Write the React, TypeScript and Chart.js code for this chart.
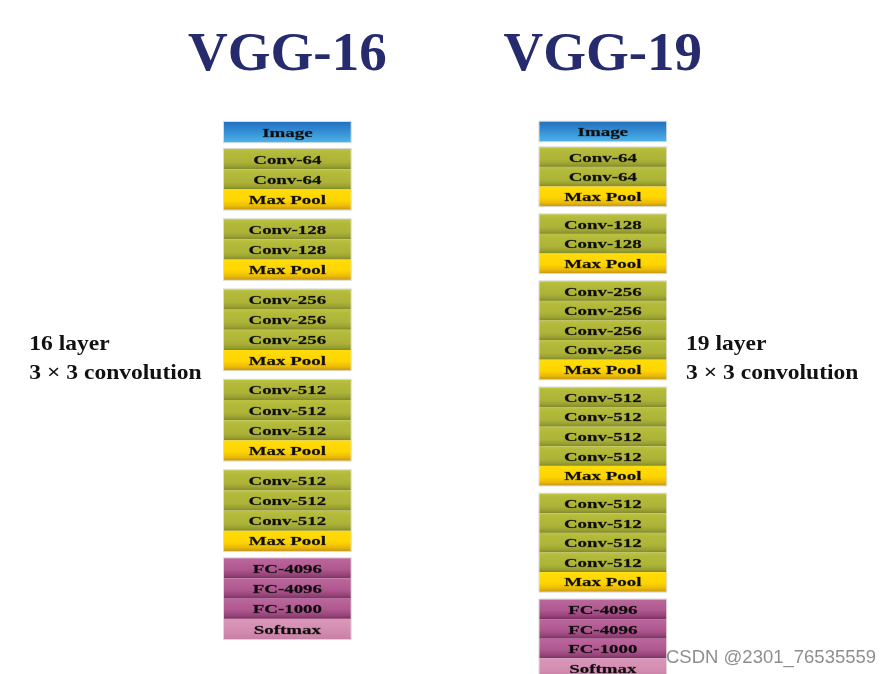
import { useEffect, useRef } from 'react';
import { Chart, registerables } from 'chart.js';

Chart.register(...registerables);

// ---------- content ----------
const networkTitles = ['VGG-16', 'VGG-19'];
const depthLabels = ['16 layer', '19 layer'];
const kernelLabel = '3 × 3 convolution';
const watermark = 'CSDN @2301_76535559';

const inputStage = ['Image'];
const classifierStage = ['FC-4096', 'FC-4096', 'FC-1000', 'Softmax'];

const vgg16ConvStages = [
  ['Conv-64', 'Conv-64', 'Max Pool'],
  ['Conv-128', 'Conv-128', 'Max Pool'],
  ['Conv-256', 'Conv-256', 'Conv-256', 'Max Pool'],
  ['Conv-512', 'Conv-512', 'Conv-512', 'Max Pool'],
  ['Conv-512', 'Conv-512', 'Conv-512', 'Max Pool'],
];

const vgg19ConvStages = [
  ['Conv-64', 'Conv-64', 'Max Pool'],
  ['Conv-128', 'Conv-128', 'Max Pool'],
  ['Conv-256', 'Conv-256', 'Conv-256', 'Conv-256', 'Max Pool'],
  ['Conv-512', 'Conv-512', 'Conv-512', 'Conv-512', 'Max Pool'],
  ['Conv-512', 'Conv-512', 'Conv-512', 'Conv-512', 'Max Pool'],
];

// ---------- layout (style, in scale units: one block = 1 unit) ----------
const W = 893;
const H = 674;
const gaps16 = { input: 0.337, conv: 0.475, fc: 0.36 };
const gaps19 = { input: 0.306, conv: 0.418, fc: 0.4 };
const blockHalfWidth = 0.2009; // x units

type Row = { label: string; top: number; stage: number };

function buildRows(stages: string[][], gaps: { input: number; conv: number; fc: number }): Row[] {
  const rows: Row[] = [];
  let u = 0;
  stages.forEach((stage, si) => {
    stage.forEach((label) => {
      rows.push({ label, top: u, stage: si });
      u += 1;
    });
    if (si === 0) u += gaps.input;
    else if (si === stages.length - 2) u += gaps.fc;
    else u += gaps.conv;
  });
  return rows;
}

const rows16 = buildRows([inputStage, ...vgg16ConvStages, classifierStage], gaps16);
const rows19 = buildRows([inputStage, ...vgg19ConvStages, classifierStage], gaps19);

function kindOf(label: string) {
  if (label.startsWith('Conv')) return 'conv';
  if (label.startsWith('Max')) return 'pool';
  if (label.startsWith('FC')) return 'fc';
  if (label.startsWith('Soft')) return 'soft';
  return 'image';
}

const gradientStops: Record<string, [number, string][]> = {
  image: [[0, '#2470c0'], [0.5, '#3590d4'], [1, '#4db2e8']],
  conv: [[0, '#bcc240'], [0.2, '#b3ba3a'], [0.65, '#adb337'], [0.85, '#9aa132'], [1, '#82882b']],
  pool: [[0, '#ffdc08'], [0.55, '#ffd500'], [0.82, '#ebbb08'], [1, '#c79818']],
  fc: [[0, '#ba679c'], [0.55, '#b05890'], [0.82, '#98447b'], [1, '#7c3063']],
  soft: [[0, '#da98b9'], [0.6, '#d38cb0'], [1, '#c87fa4']],
};

const diagramPlugin = {
  id: 'vggDiagram',
  afterDraw(chart: any) {
    const ctx: CanvasRenderingContext2D = chart.ctx;
    const xs = chart.scales.x;
    const yScales = [chart.scales.y16, chart.scales.y19];
    const rowSets = [rows16, rows19];

    ctx.save();
    rowSets.forEach((rows, ni) => {
      const ys = yScales[ni];
      const meta = chart.getDatasetMeta(ni);
      const cx = xs.getPixelForValue(ni);
      const left = xs.getPixelForValue(ni - blockHalfWidth);
      const right = xs.getPixelForValue(ni + blockHalfWidth);

      // stage outlines
      const stageIds = Array.from(new Set(rows.map((r) => r.stage)));
      stageIds.forEach((sid) => {
        const sr = rows.filter((r) => r.stage === sid);
        const t = ys.getPixelForValue(sr[0].top);
        const b = ys.getPixelForValue(sr[sr.length - 1].top + 1);
        ctx.strokeStyle = 'rgba(215,215,205,0.9)';
        ctx.lineWidth = 1;
        ctx.strokeRect(left - 0.5, t - 0.5, right - left + 1, b - t + 1);
      });

      rows.forEach((r, i) => {
        const t = ys.getPixelForValue(r.top);
        const b = ys.getPixelForValue(r.top + 1);
        const g = ctx.createLinearGradient(0, t, 0, b);
        gradientStops[kindOf(r.label)].forEach(([o, c]) => g.addColorStop(o, c));
        ctx.fillStyle = g;
        ctx.fillRect(left, t, right - left, b - t);

        const el = meta.data[i];
        const cy = el ? el.y : (t + b) / 2;
        ctx.save();
        ctx.translate(el ? el.x : cx, cy + 4.6);
        ctx.scale(1.4, 1);
        ctx.font = 'bold 13.5px "Liberation Serif", "Times New Roman", serif';
        ctx.fillStyle = '#0e0e0e';
        ctx.strokeStyle = 'rgba(14,14,14,0.55)';
        ctx.lineWidth = 0.35;
        ctx.textAlign = 'center';
        ctx.textBaseline = 'alphabetic';
        ctx.fillText(r.label, 0, 0);
        ctx.strokeText(r.label, 0, 0);
        ctx.restore();
      });

      // titles
      ctx.font = 'bold 55px "Liberation Serif", "Times New Roman", serif';
      ctx.fillStyle = '#262b6e';
      ctx.textAlign = 'center';
      ctx.textBaseline = 'alphabetic';
      ctx.fillText(networkTitles[ni], cx, 70);

      // side labels
      const lx = ni === 0 ? xs.getPixelForValue(-0.818) : xs.getPixelForValue(1.264);
      ctx.save();
      ctx.translate(lx, 0);
      ctx.scale(1.07, 1);
      ctx.font = 'bold 22px "Liberation Serif", "Times New Roman", serif';
      ctx.fillStyle = '#111';
      ctx.textAlign = 'left';
      ctx.fillText(depthLabels[ni], 0, 350);
      ctx.fillText(kernelLabel, 0, 379);
      ctx.restore();
    });

    // watermark
    ctx.font = '18.5px "Liberation Sans", Arial, sans-serif';
    ctx.fillStyle = 'rgba(130,130,130,0.9)';
    ctx.textAlign = 'left';
    ctx.textBaseline = 'alphabetic';
    ctx.fillText(watermark, 666, 663);
    ctx.restore();
  },
};

export default function App() {
  const ref = useRef<HTMLCanvasElement | null>(null);

  useEffect(() => {
    if (!ref.current) return;
    const chart = new Chart(ref.current, {
      type: 'scatter',
      data: {
        datasets: [
          {
            label: networkTitles[0],
            data: rows16.map((r) => ({ x: 0, y: r.top + 0.5 })),
            yAxisID: 'y16',
            pointRadius: 0,
            pointHoverRadius: 0,
          },
          {
            label: networkTitles[1],
            data: rows19.map((r) => ({ x: 1, y: r.top + 0.5 })),
            yAxisID: 'y19',
            pointRadius: 0,
            pointHoverRadius: 0,
          },
        ],
      },
      options: {
        responsive: false,
        animation: false,
        layout: { padding: 0 },
        events: [],
        plugins: {
          legend: { display: false },
          tooltip: { enabled: false },
          title: { display: false },
        },
        scales: {
          x: { type: 'linear', display: false, min: -0.911, max: 1.92 },
          y16: {
            type: 'linear',
            display: false,
            reverse: true,
            min: -122 / 20.2,
            max: (H - 122) / 20.2,
          },
          y19: {
            type: 'linear',
            display: false,
            reverse: true,
            min: -121.7 / 19.6,
            max: (H - 121.7) / 19.6,
          },
        },
      },
      plugins: [diagramPlugin],
    });
    return () => chart.destroy();
  }, []);

  return (
    <div style={{ position: 'absolute', left: 0, top: 0, width: W, height: H, background: '#fff' }}>
      <canvas ref={ref} width={W} height={H} style={{ width: W, height: H, display: 'block' }} />
    </div>
  );
}
